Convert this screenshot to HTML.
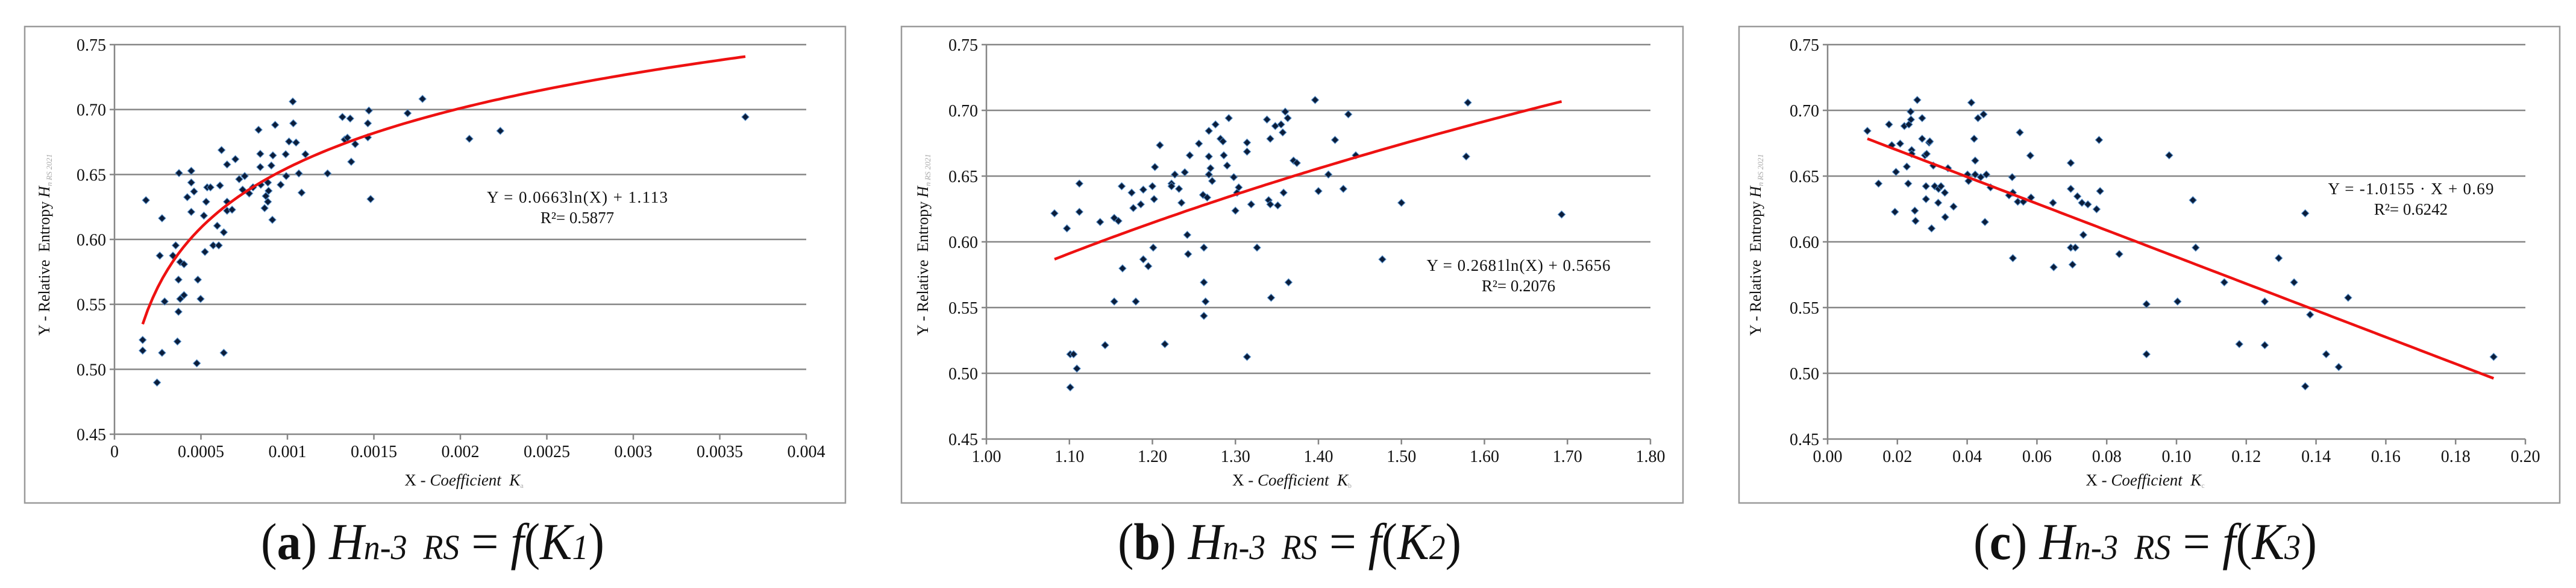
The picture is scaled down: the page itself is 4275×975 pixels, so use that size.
<!DOCTYPE html>
<html><head><meta charset="utf-8">
<style>
html,body{margin:0;padding:0;background:#fff;}
body{width:4275px;height:975px;overflow:hidden;position:relative;}
svg{position:absolute;left:0;top:0;}
text{font-family:"Liberation Serif",serif;fill:#111;}
</style></head>
<body>
<svg id="fig" width="4275" height="975" viewBox="0 0 4275 975" xmlns="http://www.w3.org/2000/svg"></svg>
<script>
// ---------- Panel (a) data ----------
const aX = [0.000163,0.000163,0.000182,0.000246,0.000262,0.000275,0.000275,0.000290,0.000338,0.000354,0.000364,0.000370,0.000370,0.000373,0.000380,0.000380,0.000402,0.000402,0.000421,0.000444,0.000444,0.000444,0.000460,0.000476,0.000482,0.000498,0.000517,0.000523,0.000530,0.000536,0.000555,0.000571,0.000594,0.000603,0.000610,0.000619,0.000632,0.000632,0.000651,0.000651,0.000651,0.000680,0.000699,0.000721,0.000741,0.000753,0.000779,0.000801,0.000833,0.000843,0.000843,0.000846,0.000868,0.000875,0.000887,0.000887,0.000891,0.000907,0.000913,0.000916,0.000929,0.000961,0.000990,0.000993,0.001009,0.001031,0.001034,0.001050,0.001066,0.001082,0.001104,0.001232,0.001318,0.001331,0.001347,0.001363,0.001369,0.001392,0.001465,0.001465,0.001471,0.001481,0.001695,0.001781,0.002052,0.002231,0.003648];
const aY = [0.5226,0.5144,0.6302,0.4898,0.5875,0.6163,0.5127,0.5522,0.5875,0.5954,0.5214,0.5690,0.5443,0.6511,0.5542,0.5826,0.5809,0.5571,0.6325,0.6528,0.6438,0.6212,0.6369,0.5046,0.5690,0.5542,0.6183,0.5904,0.6290,0.6401,0.6401,0.5954,0.6105,0.5954,0.6415,0.6688,0.6055,0.5127,0.6577,0.6290,0.6221,0.6229,0.6618,0.6464,0.6383,0.6488,0.6354,0.6401,0.6844,0.6659,0.6557,0.6421,0.6241,0.6334,0.6438,0.6290,0.6374,0.6569,0.6151,0.6647,0.6882,0.6421,0.6656,0.6488,0.6754,0.7062,0.6894,0.6746,0.6508,0.6360,0.6656,0.6508,0.6943,0.6769,0.6783,0.6931,0.6598,0.6734,0.6894,0.6786,0.6992,0.6311,0.6972,0.7082,0.6775,0.6836,0.6943];
const aTicksX = ["0","0.0005","0.001","0.0015","0.002","0.0025","0.003","0.0035","0.004"];
const aTrend = [0.0663, 1.113];

// ---------- Panel (b) data ----------
const bX = [1.082,1.097,1.101,1.101,1.105,1.109,1.112,1.112,1.137,1.143,1.154,1.154,1.159,1.163,1.164,1.175,1.177,1.180,1.186,1.189,1.189,1.195,1.200,1.201,1.202,1.203,1.209,1.215,1.223,1.223,1.227,1.232,1.235,1.239,1.242,1.243,1.245,1.256,1.261,1.262,1.262,1.262,1.264,1.266,1.268,1.268,1.268,1.270,1.272,1.276,1.282,1.285,1.286,1.290,1.292,1.298,1.300,1.302,1.304,1.314,1.314,1.314,1.319,1.326,1.338,1.340,1.342,1.342,1.343,1.348,1.351,1.355,1.357,1.358,1.360,1.363,1.364,1.370,1.374,1.396,1.400,1.412,1.420,1.430,1.436,1.445,1.477,1.500,1.578,1.580,1.693];
const bY = [0.6217,0.6102,0.5145,0.4893,0.5145,0.5036,0.6443,0.6228,0.6151,0.5214,0.6182,0.5546,0.6159,0.6423,0.5798,0.6374,0.6257,0.5546,0.6285,0.5867,0.6397,0.5815,0.6423,0.5956,0.6325,0.6569,0.6735,0.5222,0.6443,0.6423,0.6512,0.6403,0.6297,0.6529,0.6053,0.5907,0.6658,0.6747,0.6357,0.5956,0.5692,0.5437,0.5546,0.6337,0.6844,0.6649,0.6512,0.6560,0.6463,0.6893,0.6784,0.6764,0.6658,0.6580,0.6941,0.6492,0.6237,0.6374,0.6414,0.6755,0.6686,0.5125,0.6285,0.5956,0.6930,0.6317,0.6784,0.6285,0.5575,0.6881,0.6277,0.6893,0.6832,0.6374,0.6990,0.6941,0.5692,0.6618,0.6600,0.7079,0.6386,0.6512,0.6775,0.6403,0.6970,0.6658,0.5867,0.6297,0.6649,0.7059,0.6208];
const bTicksX = ["1.00","1.10","1.20","1.30","1.40","1.50","1.60","1.70","1.80"];
const bTrend = [0.2681, 0.5656];

// ---------- Panel (c) data ----------
const cX = [0.0114,0.0146,0.0176,0.0184,0.0193,0.0196,0.0208,0.0220,0.0227,0.0231,0.0233,0.0238,0.0239,0.0241,0.0241,0.0250,0.0252,0.0257,0.0271,0.0271,0.0279,0.0282,0.0282,0.0284,0.0291,0.0293,0.0298,0.0303,0.0307,0.0317,0.0318,0.0325,0.0336,0.0337,0.0345,0.0361,0.0401,0.0404,0.0412,0.0420,0.0423,0.0423,0.0431,0.0439,0.0447,0.0451,0.0455,0.0467,0.0520,0.0529,0.0531,0.0531,0.0545,0.0551,0.0561,0.0581,0.0583,0.0646,0.0648,0.0697,0.0697,0.0697,0.0702,0.0710,0.0716,0.0729,0.0733,0.0746,0.0771,0.0778,0.0781,0.0836,0.0914,0.0914,0.0979,0.1003,0.1047,0.1055,0.1137,0.1180,0.1253,0.1253,0.1293,0.1337,0.1369,0.1369,0.1383,0.1429,0.1465,0.1492,0.1909];
const cY = [0.6844,0.6443,0.6893,0.6735,0.6228,0.6532,0.6747,0.6881,0.6572,0.6443,0.6893,0.6990,0.6930,0.6698,0.6669,0.6237,0.6159,0.7079,0.6941,0.6784,0.6658,0.6423,0.6325,0.6669,0.6755,0.6764,0.6102,0.6580,0.6423,0.6297,0.6403,0.6423,0.6374,0.6188,0.6560,0.6268,0.6512,0.6463,0.7059,0.6784,0.6618,0.6512,0.6941,0.6492,0.6970,0.6151,0.6512,0.6414,0.6354,0.6492,0.6374,0.5876,0.6305,0.6832,0.6305,0.6656,0.6337,0.6297,0.5807,0.6600,0.6403,0.5956,0.5827,0.5956,0.6346,0.6297,0.6053,0.6285,0.6248,0.6775,0.6386,0.5907,0.5526,0.5145,0.6658,0.5546,0.6317,0.5956,0.5692,0.5222,0.5546,0.5214,0.5876,0.5692,0.6217,0.4901,0.5446,0.5145,0.5048,0.5575,0.5125];
const cTicksX = ["0.00","0.02","0.04","0.06","0.08","0.10","0.12","0.14","0.16","0.18","0.20"];
const cTrend = [-1.0155, 0.69];

const yTicks = ["0.45","0.50","0.55","0.60","0.65","0.70","0.75"];

const NS = "http://www.w3.org/2000/svg";
const fig = document.getElementById('fig');
function mk(tag, attrs, parent){
  const e = document.createElementNS(NS, tag);
  for (const k in attrs) e.setAttribute(k, attrs[k]);
  (parent||fig).appendChild(e);
  return e;
}

function panel(P){
  const g = mk('g', {});
  
  
  const fr = mk('rect', {x:P.fx0, y:44, width:P.fx1-P.fx0, height:790, fill:'#fff', stroke:'#9a9a9a', 'stroke-width':2.5}, g);
  
  
  const xmin = parseFloat(P.ticks[0]), xmax = parseFloat(P.ticks[P.ticks.length-1]);
  const sx = v => P.px0 + (v - xmin) / (xmax - xmin) * (P.px1 - P.px0);
  const sy = v => P.py1 - (v - 0.45) / 0.30 * (P.py1 - P.py0);
  yTicks.forEach(t => {
    const v = parseFloat(t), y = sy(v);
    if (v > 0.45) {
      const gl = mk('line', {x1:P.px0-8, x2:P.px1, y1:y, y2:y, stroke:'#868686', 'stroke-width':2.5}, g);
      
      
    } else {
      const tk = mk('line', {x1:P.px0-8, x2:P.px0, y1:y, y2:y, stroke:'#868686', 'stroke-width':2.5}, g);
      
      
    }
    const tl = mk('text', {x:P.px0-14, y:y+10, 'text-anchor':'end', 'font-size':28}, g);
    tl.textContent = t;
    
    
  });
  const ax = mk('line', {x1:P.px0, x2:P.px1, y1:P.py1, y2:P.py1, stroke:'#868686', 'stroke-width':2.5}, g);
  
  
  const ay = mk('line', {x1:P.px0, x2:P.px0, y1:P.py0, y2:P.py1, stroke:'#868686', 'stroke-width':2.5}, g);
  
  
  P.ticks.forEach(t => {
    const x = sx(parseFloat(t));
    const tk = mk('line', {x1:x, x2:x, y1:P.py1, y2:P.py1+9, stroke:'#868686', 'stroke-width':2.5}, g);
    
    
    const tl = mk('text', {x:x, y:P.py1+38, 'text-anchor':'middle', 'font-size':28}, g);
    tl.textContent = t;
    
    
  });
  const xt = mk('text', {x:P.xtx, y:805, 'text-anchor':'middle', 'font-size':27}, g);
  xt.innerHTML = 'X - <tspan font-style="italic">Coefficient&#160;&#160;K</tspan><tspan font-size="12" fill="#aaa" dy="4">' + P.id.slice(-1) + '</tspan>';
  
  
  const yt = mk('text', {x:0, y:0, 'text-anchor':'middle', 'font-size':26, transform:'translate(' + P.ytx + ',406) rotate(-90)'}, g);
  yt.innerHTML = 'Y - Relative&#160; Entropy <tspan font-style="italic">H</tspan><tspan font-size="13" fill="#aaa" font-style="italic" dy="4">n RS 2021</tspan>';
  
  
  P.xs.forEach((xv, i) => {
    const cx = sx(xv), cy = sy(P.ys[i]);
    const d = mk('path', {d:'M'+cx+' '+(cy-6)+' L'+(cx+6)+' '+cy+' L'+cx+' '+(cy+6)+' L'+(cx-6)+' '+cy+' Z', fill:'#0b1d3a', stroke:'#4f8ed0', 'stroke-width':1.3, 'stroke-opacity':0.8}, g);
    
    
  });
  const x0 = Math.min.apply(null, P.xs), x1 = Math.max.apply(null, P.xs);
  const pts = [];
  for (let k = 0; k <= 120; k++) {
    const xv = x0 + (x1 - x0) * k / 120;
    const yv = P.log ? P.trend[0] * Math.log(xv) + P.trend[1] : P.trend[0] * xv + P.trend[1];
    pts.push(sx(xv).toFixed(1) + ',' + sy(yv).toFixed(1));
  }
  const tr = mk('polyline', {points:pts.join(' '), fill:'none', stroke:'#ee1111', 'stroke-width':4.5}, g);
  
  
  const e1 = mk('text', {x:P.ex, y:P.ey, 'text-anchor':'middle', 'font-size':27, textLength:P.ew, lengthAdjust:'spacing'}, g);
  e1.textContent = P.eq;
  
  
  const e2 = mk('text', {x:P.ex, y:P.ey+34, 'text-anchor':'middle', 'font-size':27}, g);
  e2.textContent = P.r2;
  
  
  const cap = mk('text', {x:P.capx, y:927, 'text-anchor':'middle', 'font-size':86, textLength:570, lengthAdjust:'spacingAndGlyphs'}, g);
  cap.innerHTML = '(<tspan font-weight="bold">' + P.id + '</tspan>) <tspan font-style="italic">H</tspan><tspan font-style="italic" font-size="58">n-3 &#160;RS</tspan> = <tspan font-style="italic">f</tspan>(<tspan font-style="italic">K</tspan><tspan font-style="italic" font-size="58">' + P.sub + '</tspan>)';
  
  
}

panel({id:'a', sub:'1', fx0:41, fx1:1403, px0:190, px1:1338, py0:74, py1:720, ticks:aTicksX, xs:aX, ys:aY, trend:aTrend, log:true,
  eq:'Y = 0.0663ln(X) + 1.113', r2:'R²= 0.5877', ex:958, ey:336, ew:300, xtx:770, ytx:82, capx:718});
panel({id:'b', sub:'2', fx0:1496, fx1:2793, px0:1637, px1:2739, py0:74, py1:728, ticks:bTicksX, xs:bX, ys:bY, trend:bTrend, log:true,
  eq:'Y = 0.2681ln(X) + 0.5656', r2:'R²= 0.2076', ex:2520, ey:449, ew:305, xtx:2144, ytx:1540, capx:2140});
panel({id:'c', sub:'3', fx0:2886, fx1:4248, px0:3033, px1:4191, py0:74, py1:728, ticks:cTicksX, xs:cX, ys:cY, trend:cTrend, log:false,
  eq:'Y = -1.0155 · X + 0.69', r2:'R²= 0.6242', ex:4001, ey:322, ew:275, xtx:3560, ytx:2922, capx:3560});
</script>
</body></html>
